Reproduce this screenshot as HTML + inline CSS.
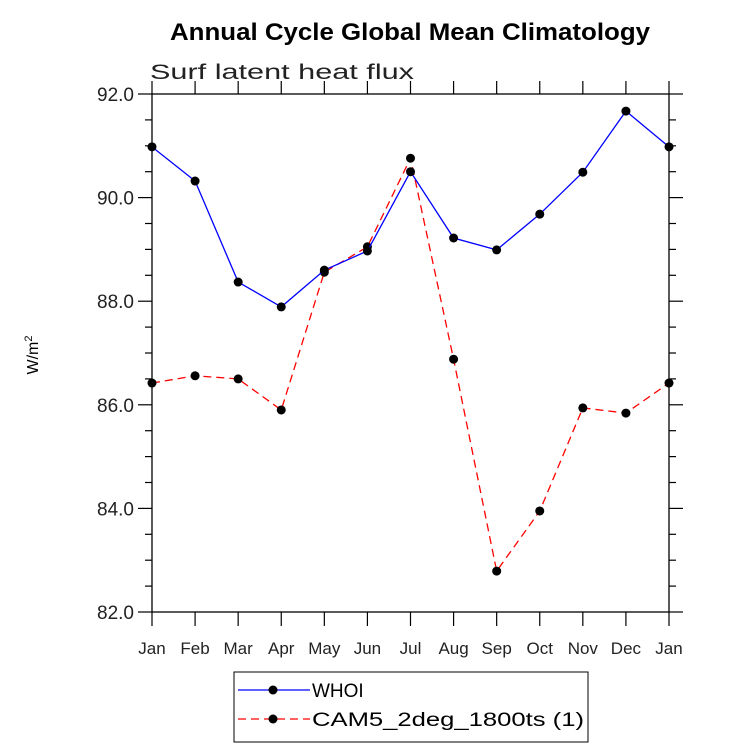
<!DOCTYPE html>
<html><head><meta charset="utf-8"><style>
body{margin:0;background:#fff}
svg text{font-family:"Liberation Sans",sans-serif}
</style></head><body>
<svg width="733" height="748" viewBox="0 0 733 748">
<text x="410" y="40" text-anchor="middle" font-size="24" font-weight="bold" textLength="480" lengthAdjust="spacingAndGlyphs">Annual Cycle Global Mean Climatology</text>
<text x="150" y="79" font-size="21" fill="#222" textLength="264" lengthAdjust="spacingAndGlyphs">Surf latent heat flux</text>
<text transform="translate(38,355) rotate(-90)" text-anchor="middle" font-size="16">W/m<tspan dy="-6" font-size="11">2</tspan></text>
<g id="axes"></g>
<g id="series"></g>
<g>
<rect x="234" y="672" width="354" height="70" fill="#fff" stroke="#000" stroke-width="1"/>
<line x1="238" y1="690" x2="310" y2="690" stroke="#00f" stroke-width="1.2"/>
<circle cx="273" cy="690" r="4.5" fill="#000"/>
<text x="312" y="697" font-size="19">WHOI</text>
<line x1="238" y1="719" x2="310" y2="719" stroke="#f00" stroke-width="1.2" stroke-dasharray="8,5"/>
<circle cx="273" cy="719" r="4.5" fill="#000"/>
<text x="312" y="726" font-size="19" textLength="272" lengthAdjust="spacingAndGlyphs">CAM5_2deg_1800ts (1)</text>
</g>
</svg>
<script>
const months=["Jan","Feb","Mar","Apr","May","Jun","Jul","Aug","Sep","Oct","Nov","Dec","Jan"];
const whoi=[90.98,90.32,88.37,87.89,88.60,88.97,90.50,89.22,88.99,89.68,90.49,91.67,90.98];
const cam=[86.42,86.56,86.50,85.90,88.56,89.05,90.76,86.88,82.79,83.95,85.94,85.84,86.42];
const yTicks=[82,84,86,88,90,92];
const NS="http://www.w3.org/2000/svg";
const L=152,R=669,T=94,B=612,ymin=82,ymax=92;
const xs=i=>L+i*(R-L)/(months.length-1);
const ys=v=>B-(v-ymin)/(ymax-ymin)*(B-T);
function mk(tag,at,parent){const e=document.createElementNS(NS,tag);for(const k in at)e.setAttribute(k,at[k]);parent.appendChild(e);return e;}
const ax=document.getElementById('axes');
const frame=mk('rect',{x:L,y:T,width:R-L,height:B-T,fill:'none',stroke:'#000','stroke-width':1.3},ax);


for(let v=ymin;v<=ymax+1e-9;v+=0.5){
  const y=ys(v),maj=Math.abs(v-Math.round(v))<1e-9&&Math.round(v)%2===0;
  const len=maj?14:7;
  mk('line',{x1:L-len,y1:y,x2:L,y2:y,stroke:'#000','stroke-width':1.2},ax);
  mk('line',{x1:R,y1:y,x2:R+len,y2:y,stroke:'#000','stroke-width':1.2},ax);
}
yTicks.forEach(v=>{
  const t=mk('text',{x:L-18,y:ys(v)+7,'text-anchor':'end','font-size':19,fill:'#222'},ax);
  t.textContent=v.toFixed(1);
  
  
});
months.forEach((m,i)=>{
  const x=xs(i);
  mk('line',{x1:x,y1:B,x2:x,y2:B+14,stroke:'#000','stroke-width':1.2},ax);
  mk('line',{x1:x,y1:T,x2:x,y2:T-13,stroke:'#000','stroke-width':1.2},ax);
  const t=mk('text',{x:x,y:B+42,'text-anchor':'middle','font-size':17,fill:'#222'},ax);
  t.textContent=m;
  
  
});
const sg=document.getElementById('series');
function draw(vals,color,dash,name){
  const p=mk('polyline',{points:vals.map((v,i)=>xs(i)+','+ys(v)).join(' '),fill:'none',stroke:color,'stroke-width':1.3,'stroke-dasharray':dash},sg);
  
  
  vals.forEach((v,i)=>{
    const c=mk('circle',{cx:xs(i),cy:ys(v),r:4.5,fill:'#000'},sg);
    
    
  });
}
draw(cam,'#f00','8,5','cam5');
draw(whoi,'#00f','none','whoi');
</script>
</body></html>
